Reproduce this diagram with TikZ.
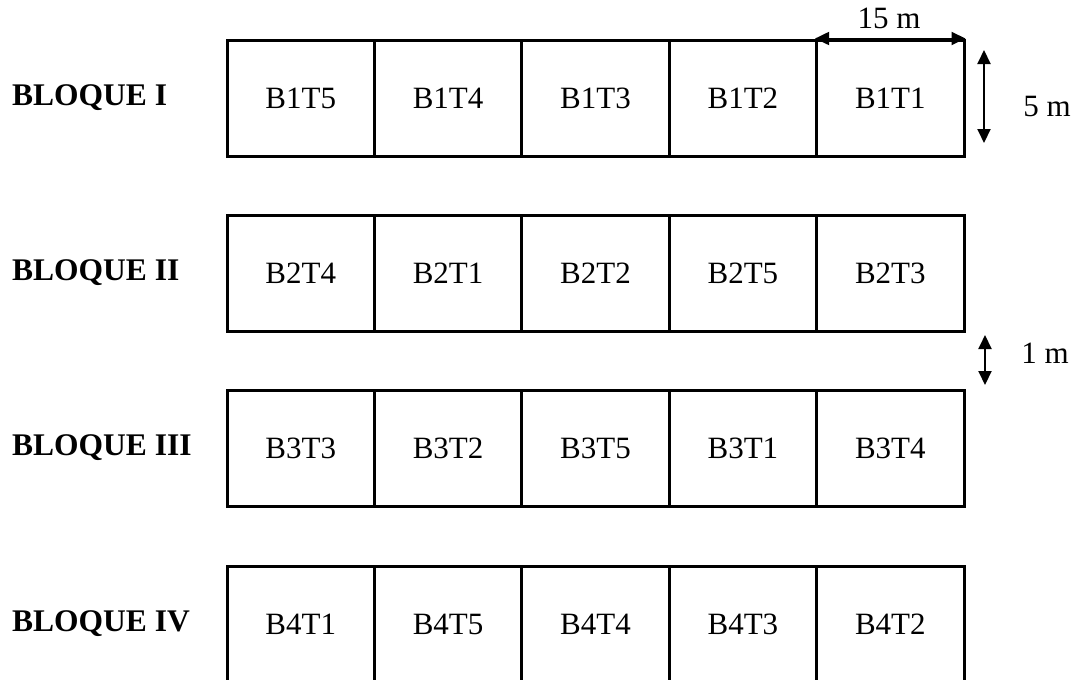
\documentclass[tikz,border=0pt]{standalone}
\usepackage{fontspec}
\setmainfont{Liberation Serif}
\usetikzlibrary{arrows.meta}
\begin{document}
\begin{tikzpicture}[x=1pt,y=-1pt,
  cell/.style={draw,line width=3pt,minimum width=147.4pt,minimum height=116pt,inner sep=0pt,
     font=\fontsize{31}{36}\selectfont},
  blk/.style={anchor=west,inner sep=0pt,font=\fontsize{31.5}{36}\selectfont\bfseries},
  dim/.style={line width=2pt,{Triangle[length=14pt,width=13pt]}-{Triangle[length=14pt,width=13pt]}},
  dimlab/.style={inner sep=0pt,font=\fontsize{31}{36}\selectfont}]
\useasboundingbox (0,0) rectangle (1082,681);
\clip (0,0) rectangle (1082,679.5);
% Bloque I
\node[blk] (b1) at (12,98) {BLOQUE I};
\node[cell] (r1c1) at (300.7,98) {B1T5};
\node[cell] (r1c2) at (448.1,98) {B1T4};
\node[cell] (r1c3) at (595.5,98) {B1T3};
\node[cell] (r1c4) at (742.9,98) {B1T2};
\node[cell] (r1c5) at (890.3,98) {B1T1};
% Bloque II
\node[blk] (b2) at (12,273) {BLOQUE II};
\node[cell] (r2c1) at (300.7,273) {B2T4};
\node[cell] (r2c2) at (448.1,273) {B2T1};
\node[cell] (r2c3) at (595.5,273) {B2T2};
\node[cell] (r2c4) at (742.9,273) {B2T5};
\node[cell] (r2c5) at (890.3,273) {B2T3};
% Bloque III
\node[blk] (b3) at (12,448) {BLOQUE III};
\node[cell] (r3c1) at (300.7,448) {B3T3};
\node[cell] (r3c2) at (448.1,448) {B3T2};
\node[cell] (r3c3) at (595.5,448) {B3T5};
\node[cell] (r3c4) at (742.9,448) {B3T1};
\node[cell] (r3c5) at (890.3,448) {B3T4};
% Bloque IV
\node[blk] (b4) at (12,624) {BLOQUE IV};
\node[cell] (r4c1) at (300.7,624) {B4T1};
\node[cell] (r4c2) at (448.1,624) {B4T5};
\node[cell] (r4c3) at (595.5,624) {B4T4};
\node[cell] (r4c4) at (742.9,624) {B4T3};
\node[cell] (r4c5) at (890.3,624) {B4T2};
% dimensions
\draw[dim] (r1c5.north west) -- (r1c5.north east);
\node[dimlab] (l15) at (889,18) {15 m};
\coordinate (v5a) at (984,50);
\coordinate (v5b) at (984,143);
\draw[dim] (v5a) -- (v5b);
\node[dimlab] (l5) at (1047,106) {5 m};
\coordinate (v1a) at (985,335);
\coordinate (v1b) at (985,385);
\draw[dim] (v1a) -- (v1b);
\node[dimlab] (l1) at (1045,353) {1 m};
\end{tikzpicture}
\end{document}
